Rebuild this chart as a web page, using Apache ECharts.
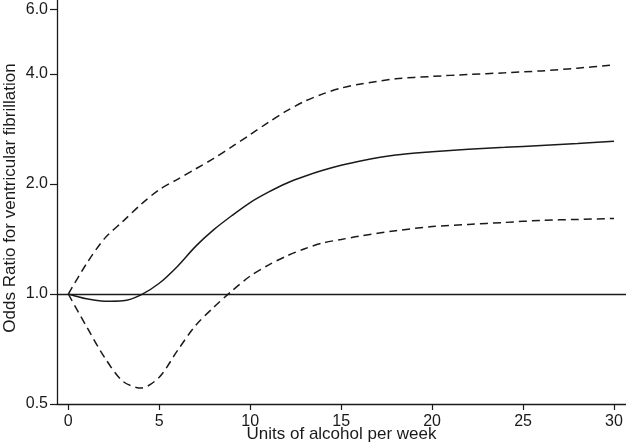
<!DOCTYPE html>
<html>
<head>
<meta charset="utf-8">
<script src="https://cdn.jsdelivr.net/npm/echarts@6/dist/echarts.min.js"></script>
<style>html,body{margin:0;padding:0;background:#fff;}#c{width:626px;height:444px;}</style>
</head>
<body>
<div id="c"></div>
<script>
// Units of alcohol per week
const xValues = [0,1,2,3,4,5,6,7,8,9,10,11,12,13,14,15,16,18,20,22,24,26,28,30];
// Odds ratio estimate
const orEstimate = [1.0,0.97,0.955,0.958,0.995,1.07,1.19,1.35,1.50,1.64,1.78,1.90,2.01,2.10,2.18,2.25,2.31,2.40,2.45,2.49,2.52,2.55,2.58,2.62];
// Upper 95% CI
const orUpper = [1.0,1.21,1.42,1.58,1.76,1.93,2.06,2.20,2.35,2.53,2.73,2.95,3.17,3.37,3.53,3.66,3.75,3.88,3.94,3.99,4.03,4.08,4.15,4.24];
// Lower 95% CI
const orLower = [1.0,0.815,0.67,0.577,0.553,0.592,0.70,0.82,0.92,1.02,1.12,1.20,1.27,1.33,1.38,1.41,1.44,1.49,1.53,1.55,1.57,1.59,1.60,1.61];
// Tick labels
const xTicks = [0,5,10,15,20,25,30];
const yTicks = [0.5,1.0,2.0,4.0,6.0];
const refValue = 1.0;
const xTitle = 'Units of alcohol per week';
const yTitle = 'Odds Ratio for ventricular fibrillation';

const L = v => Math.log2(v);
const pts = arr => xValues.map((x,i)=>[x, L(arr[i])]);
const FONT = 'Liberation Sans';
const ink = '#1a1a1a';

const chart = echarts.init(document.getElementById('c'), null, {renderer:'canvas'});
chart.setOption({
  animation:false,
  backgroundColor:'#fff',
  grid:{left:57,right:0,top:0,bottom:40,containLabel:false,outerBoundsMode:'none'},
  graphic:[{
    type:'text', x:10, y:198, rotation:Math.PI/2,
    style:{text:yTitle, fontFamily:FONT, fontSize:17, fill:ink, align:'center', verticalAlign:'middle'}
  }],
  xAxis:{
    type:'value', min:-0.62, max:30.66,
    name:xTitle, nameLocation:'middle', nameGap:22, nameMoveOverlap:false,
    nameTextStyle:{fontFamily:FONT,fontSize:17,color:ink},
    axisLine:{onZero:false,lineStyle:{color:ink,width:1.3}},
    axisTick:{customValues:xTicks,length:6,lineStyle:{color:ink,width:1.2}},
    axisLabel:{customValues:xTicks,fontFamily:FONT,fontSize:16,color:ink,margin:10},
    splitLine:{show:false}
  },
  yAxis:{
    type:'value', min:L(0.5), max:2.673,
    axisLine:{onZero:false,lineStyle:{color:ink,width:1.3}},
    axisTick:{customValues:yTicks.map(L),length:7,lineStyle:{color:ink,width:1.2}},
    axisLabel:{customValues:yTicks.map(L),fontFamily:FONT,fontSize:16,color:ink,margin:9,
      formatter:v=>Math.pow(2,v).toFixed(1)},
    splitLine:{show:false}
  },
  series:[
    {type:'line',data:pts(orEstimate),smooth:0.3,symbol:'none',
     lineStyle:{color:ink,width:1.5},
     markLine:{silent:true,symbol:'none',label:{show:false},
       lineStyle:{color:ink,width:1.3,type:'solid'},data:[{yAxis:L(refValue)}]}},
    {type:'line',data:pts(orUpper),smooth:0.3,symbol:'none',
     lineStyle:{color:ink,width:1.5,type:[8,5]}},
    {type:'line',data:pts(orLower),smooth:0.3,symbol:'none',
     lineStyle:{color:ink,width:1.5,type:[8,5]}}
  ]
});
</script>
</body>
</html>
